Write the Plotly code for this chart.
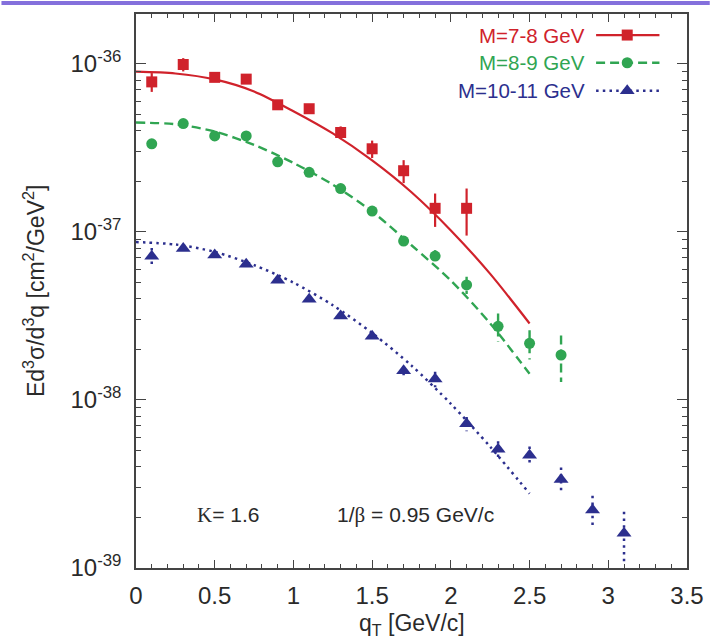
import plotly.graph_objects as go

# ---- measured cross sections: q_T bins [GeV/c], Ed^3sigma/d^3q [cm^2/GeV^2] ----
qt_78 = [0.1, 0.3, 0.5, 0.7, 0.9, 1.1, 1.3, 1.5, 1.7, 1.9, 2.1]
xs_78 = [7.8e-37, 9.9e-37, 8.3e-37, 8.1e-37, 5.7e-37, 5.4e-37, 3.9e-37,
         3.12e-37, 2.31e-37, 1.38e-37, 1.38e-37]
err_78 = [1.0e-37, 0.9e-37, 0.3e-37, 0.3e-37, 0.3e-37, 0.3e-37, 0.34e-37,
          0.37e-37, 0.36e-37, 0.31e-37, 0.43e-37]

qt_89 = [0.1, 0.3, 0.5, 0.7, 0.9, 1.1, 1.3, 1.5, 1.7, 1.9, 2.1, 2.3, 2.5, 2.7]
xs_89 = [3.34e-37, 4.41e-37, 3.72e-37, 3.72e-37, 2.61e-37, 2.26e-37, 1.81e-37,
         1.33e-37, 8.81e-38, 7.18e-38, 4.83e-38, 2.74e-38, 2.17e-38, 1.85e-38]
err_89 = [0.1e-37, 0.1e-37, 0.1e-37, 0.1e-37, 0.08e-37, 0.07e-37, 0.06e-37,
          0.05e-37, 0.4e-38, 0.6e-38, 0.57e-38, 0.53e-38, 0.43e-38, 0.57e-38]

qt_1011 = [0.1, 0.3, 0.5, 0.7, 0.9, 1.1, 1.3, 1.5, 1.7, 1.9, 2.1, 2.3, 2.5, 2.7, 2.9, 3.1]
xs_1011 = [7.15e-38, 7.97e-38, 7.27e-38, 6.41e-38, 5.15e-38, 3.97e-38, 3.16e-38,
           2.39e-38, 1.49e-38, 1.33e-38, 7.21e-39, 5.08e-39, 4.68e-39, 3.36e-39,
           2.21e-39, 1.61e-39]
err_1011 = [0.85e-38, 0.2e-38, 0.2e-38, 0.15e-38, 0.12e-38, 0.1e-38, 0.08e-38,
            0.07e-38, 0.1e-38, 0.14e-38, 0.7e-39, 0.6e-39, 0.6e-39, 0.6e-39,
            0.48e-39, 0.55e-39]

# ---- model curves (K = 1.6, 1/beta = 0.95 GeV/c) ----
qt_fit = [0.0, 0.25, 0.5, 0.75, 1.0, 1.25, 1.5, 1.75, 2.0, 2.25, 2.5]
fit_78 = [8.97e-37, 8.75e-37, 8.07e-37, 6.84e-37, 5.22e-37, 3.85e-37, 2.66e-37,
          1.72e-37, 1.02e-37, 5.62e-38, 2.85e-38]
fit_89 = [4.47e-37, 4.37e-37, 3.95e-37, 3.29e-37, 2.57e-37, 1.91e-37, 1.32e-37,
          8.32e-38, 5.13e-38, 2.85e-38, 1.43e-38]
fit_1011 = [8.69e-38, 8.41e-38, 7.60e-38, 6.34e-38, 4.99e-38, 3.66e-38, 2.50e-38,
            1.60e-38, 9.48e-39, 5.26e-39, 2.77e-39]

series_names = ["M=7-8 GeV", "M=8-9 GeV", "M=10-11 GeV"]
x_ticks = [0, 0.5, 1, 1.5, 2, 2.5, 3, 3.5]
y_decades = [-39, -38, -37, -36]

RED = "#d0222b"
GREEN = "#30a552"
BLUE = "#2c2f8e"
INK = "#2a2a2a"
FONT = "Liberation Sans, Arial, Helvetica, sans-serif"
SERIF = "Liberation Serif, Times New Roman, serif"

series = [
    dict(x=qt_78, y=xs_78, e=err_78, fit=fit_78, color=RED, dash="solid",
         symbol="square", size=11, width=2.2),
    dict(x=qt_89, y=xs_89, e=err_89, fit=fit_89, color=GREEN, dash="9px,5px",
         symbol="circle", size=11, width=2.4),
    dict(x=qt_1011, y=xs_1011, e=err_1011, fit=fit_1011, color=BLUE,
         dash="2.5px,4.2px", symbol="triangle-up", size=13, width=2.5),
]

fig = go.Figure()

for s in series:
    # vertical error bars, drawn with the same line style as the series curve
    bx, by = [], []
    for xv, yv, ev in zip(s["x"], s["y"], s["e"]):
        bx += [xv, xv, None]
        by += [yv + ev, yv - ev, None]
    fig.add_trace(go.Scatter(x=bx, y=by, mode="lines", showlegend=False,
                             hoverinfo="skip",
                             line=dict(color=s["color"], width=s["width"],
                                       dash=s["dash"])))
    # model curve
    fig.add_trace(go.Scatter(x=qt_fit, y=s["fit"], mode="lines", showlegend=False,
                             line=dict(color=s["color"], width=s["width"],
                                       dash=s["dash"], shape="spline",
                                       smoothing=0.8)))

for s, name in zip(series, series_names):
    fig.add_trace(go.Scatter(x=s["x"], y=s["y"], mode="markers", name=name,
                             showlegend=False,
                             marker=dict(symbol=s["symbol"], size=s["size"],
                                         color=s["color"], line=dict(width=0))))

# ---- hand-built key: label, then line sample with marker (overlay axes 0..1) ----
key_rows = [0.962, 0.912, 0.8615]
annotations = []
for s, name, ky in zip(series, series_names, key_rows):
    fig.add_trace(go.Scatter(x=[0.835, 0.950], y=[ky, ky], mode="lines",
                             xaxis="x2", yaxis="y2", showlegend=False,
                             hoverinfo="skip",
                             line=dict(color=s["color"], width=s["width"],
                                       dash=s["dash"])))
    fig.add_trace(go.Scatter(x=[0.8915], y=[ky], mode="markers",
                             xaxis="x2", yaxis="y2", showlegend=False,
                             hoverinfo="skip",
                             marker=dict(symbol=s["symbol"], size=s["size"],
                                         color=s["color"], line=dict(width=0))))
    annotations.append(dict(xref="paper", yref="paper", x=0.819, y=ky,
                            xanchor="right", yanchor="middle", showarrow=False,
                            text=name, font=dict(family=FONT, size=20.5,
                                                 color=s["color"])))

annotations += [
    dict(xref="paper", yref="paper", x=0.167, y=0.095, showarrow=False,
         xanchor="center", yanchor="middle",
         text=f"<span style='font-family:{SERIF}'>K</span>= 1.6",
         font=dict(family=FONT, size=21, color=INK)),
    dict(xref="paper", yref="paper", x=0.508, y=0.095, showarrow=False,
         xanchor="center", yanchor="middle",
         text=f"1/<span style='font-family:{SERIF}'>β</span> = 0.95 GeV/c",
         font=dict(family=FONT, size=21, color=INK)),
    dict(xref="paper", yref="paper", x=0.5, y=-0.1025, showarrow=False,
         xanchor="center", yanchor="middle",
         text="q<sub>T</sub> [GeV/c]",
         font=dict(family=FONT, size=23, color=INK)),
    dict(xref="paper", yref="paper", x=-0.185, y=0.5, showarrow=False,
         xanchor="center", yanchor="middle", textangle=-90,
         text="Ed<sup>3</sup>σ/d<sup>3</sup>q [cm<sup>2</sup>/GeV<sup>2</sup>]",
         font=dict(family=FONT, size=23, color=INK)),
]

y_minor = [k * 10.0 ** d for d in y_decades for k in range(2, 10)]

axis_common = dict(showline=True, linecolor="#444", linewidth=1.6, mirror="allticks",
                   ticks="inside", tickcolor="#444", tickwidth=1.3,
                   showgrid=False, zeroline=False,
                   tickfont=dict(family=FONT, size=24, color=INK))

fig.update_layout(
    width=716, height=641,
    margin=dict(l=136, r=23, t=12, b=73),
    paper_bgcolor="white", plot_bgcolor="white",
    showlegend=False,
    xaxis=dict(range=[0, 3.5], tickvals=x_ticks, ticklen=8,
               minor=dict(dtick=0.1, ticks="inside", ticklen=4,
                          tickcolor="#444", tickwidth=1.1, showgrid=False),
               ticklabelstandoff=5, **axis_common),
    yaxis=dict(type="log", range=[-39, -35.704],
               tickvals=[10.0 ** d for d in y_decades],
               ticktext=[f"10<sup>{d}</sup>" for d in y_decades],
               ticklen=10,
               minor=dict(tickmode="array", tickvals=y_minor, ticks="inside",
                          ticklen=5, tickcolor="#444", tickwidth=1.1,
                          showgrid=False),
               ticklabelstandoff=8, **axis_common),
    xaxis2=dict(range=[0, 1], overlaying="x", visible=False, fixedrange=True),
    yaxis2=dict(range=[0, 1], overlaying="y", visible=False, fixedrange=True),
    annotations=annotations,
    shapes=[dict(type="rect", xref="paper", yref="paper",
                 x0=-136 / 557, x1=580 / 557, y0=1 + 9 / 556, y1=1 + 13 / 556,
                 fillcolor="#8470dc", line=dict(width=0))],
)

fig.write_html("out.html")
